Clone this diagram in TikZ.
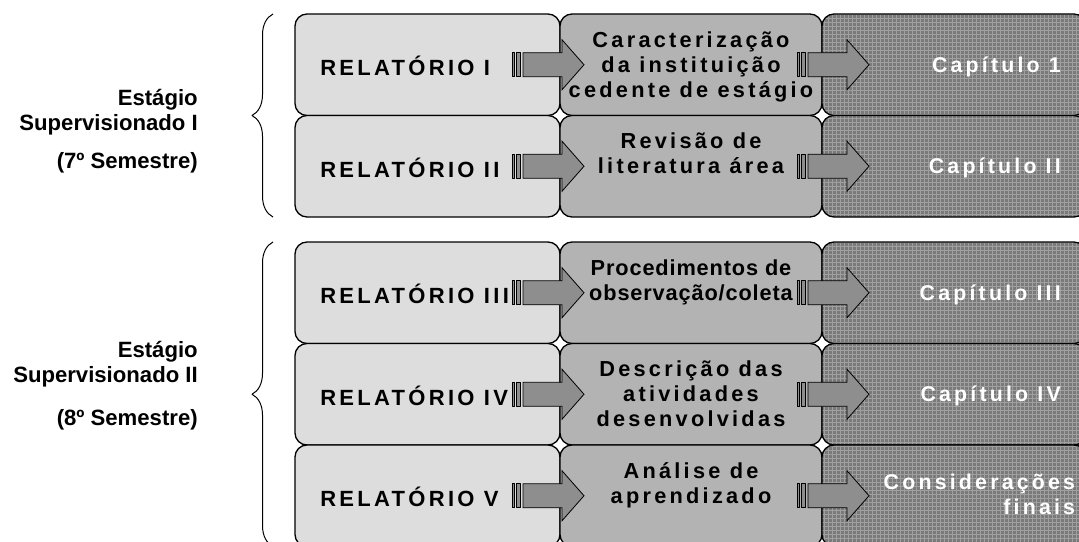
\documentclass[tikz,border=0pt]{standalone}
\usepackage{fontspec}
\setmainfont{Liberation Sans}
\newfontfamily\widefont[LetterSpace=15]{Liberation Sans}
\newfontfamily\tightfont[LetterSpace=4]{Liberation Sans}
\usetikzlibrary{positioning, patterns, decorations.pathreplacing}

\definecolor{relfill}{HTML}{DDDDDD}
\definecolor{temafill}{HTML}{B3B3B3}
\definecolor{capfill}{HTML}{7A7A7A}
\definecolor{capmesh}{HTML}{A0A0A0}
\definecolor{arrowfill}{HTML}{8E8E8E}

\begin{document}
\begin{tikzpicture}[x=.75pt, y=-.75pt, line join=round,
  box/.style={draw, line width=1pt, rounded corners=9pt, outer sep=0pt, inner sep=0pt, minimum height=76.125pt},
  relbox/.style={box, fill=relfill, minimum width=198.75pt},
  temabox/.style={box, fill=temafill, minimum width=196.5pt},
  capbox/.style={box, preaction={fill=capfill}, pattern=grid, pattern color=capmesh, minimum width=198pt},
  reltext/.style={inner sep=0pt, font=\widefont\bfseries\fontsize{16.5}{18.75}\selectfont},
  tematext/.style={inner sep=0pt, align=center, font=\widefont\bfseries\fontsize{16.3}{18.75}\selectfont},
  captext/.style={inner sep=0pt, align=right, text=white, font=\widefont\bfseries\fontsize{16}{18.75}\selectfont},
  grouptext/.style={inner sep=0pt, align=right, font=\bfseries\fontsize{16.6}{18.75}\selectfont},
  semibrace/.style={decorate, decoration={brace, amplitude=15.75pt}, line width=.75pt},
  striparrow/.pic={
    \draw[fill=arrowfill, line width=.6pt] (0,-12) rectangle (2.5,12);
    \draw[fill=arrowfill, line width=.6pt] (4.5,-12) rectangle (8.5,12);
    \draw[fill=arrowfill, line width=.6pt, line join=miter] (11,-12) -- (50,-12) -- (50,-25) -- (72,0) -- (50,25) -- (50,12) -- (11,12) -- cycle;
  }]
\useasboundingbox (0,0) rectangle (1079,542);

% Boxes
\node[relbox] (r1) at (427.5,64.75) {};
\node[temabox, right=0pt of r1] (t1) {};
\node[capbox, right=0pt of t1] (c1) {};
\node[relbox, below=0pt of r1] (r2) {};
\node[temabox, right=0pt of r2] (t2) {};
\node[capbox, right=0pt of t2] (c2) {};

\node[relbox] (r3) at (427.5,292.75) {};
\node[temabox, right=0pt of r3] (t3) {};
\node[capbox, right=0pt of t3] (c3) {};
\node[relbox, below=0pt of r3] (r4) {};
\node[temabox, right=0pt of r4] (t4) {};
\node[capbox, right=0pt of t4] (c4) {};
\node[relbox, below=0pt of r4] (r5) {};
\node[temabox, right=0pt of r5] (t5) {};
\node[capbox, right=0pt of t5] (c5) {};

% Arrows
\pic at ([xshift=-36pt]r1.east) {striparrow};
\pic at ([xshift=-18.75pt]t1.east) {striparrow};
\pic at ([xshift=-36pt]r2.east) {striparrow};
\pic at ([xshift=-18.75pt]t2.east) {striparrow};
\pic at ([xshift=-36pt]r3.east) {striparrow};
\pic at ([xshift=-18.75pt]t3.east) {striparrow};
\pic at ([xshift=-36pt]r4.east) {striparrow};
\pic at ([xshift=-18.75pt]t4.east) {striparrow};
\pic at ([xshift=-36pt]r5.east) {striparrow};
\pic at ([xshift=-18.75pt]t5.east) {striparrow};

% Braces
\draw[semibrace] ([xshift=-16.5pt]r2.south west) -- ([xshift=-16.5pt]r1.north west);
\draw[semibrace] ([xshift=-16.5pt]r5.south west) -- ([xshift=-16.5pt]r3.north west);

% Text
\node[grouptext, anchor=north east] (g1) at (198,87.5) {\strut Estágio\\Supervisionado I\\[9.75pt](7º Semestre)};
\node[grouptext, anchor=north east] (g2) at (198,339.5) {\strut Estágio\\Supervisionado II\\[14pt](8º Semestre)};

\node[reltext, anchor=base west] (l1) at ([xshift=18.75pt, yshift=-8.4pt]r1.west) {RELATÓRIO I};
\node[reltext, anchor=base west] (l2) at ([xshift=18.75pt, yshift=-8.4pt]r2.west) {RELATÓRIO II};
\node[reltext, anchor=base west] (l3) at ([xshift=18.75pt, yshift=-8.4pt]r3.west) {RELATÓRIO III};
\node[reltext, anchor=base west] (l4) at ([xshift=18.75pt, yshift=-8.4pt]r4.west) {RELATÓRIO IV};
\node[reltext, anchor=base west] (l5) at ([xshift=18.75pt, yshift=-8.4pt]r5.west) {RELATÓRIO V};

\node[tematext, anchor=north] (m1) at ([yshift=-11.6pt]t1.north) {\strut Caracterização\\da instituição\\cedente de estágio};
\node[tematext, anchor=north] (m2) at ([yshift=-11.6pt]t2.north) {\strut Revisão de\\literatura área};
\node[tematext, anchor=north, font=\tightfont\bfseries\fontsize{16.3}{18.75}\selectfont] (m3) at ([yshift=-11.6pt]t3.north) {\strut Procedimentos de\\observação/coleta};
\node[tematext, anchor=north] (m4) at ([yshift=-11.6pt]t4.north) {\strut Descrição das\\atividades\\desenvolvidas};
\node[tematext, anchor=north] (m5) at ([yshift=-11.6pt]t5.north) {\strut Análise de\\aprendizado};

\node[captext, anchor=base east] (k1) at ([xshift=-18.75pt, yshift=-5.5pt]c1.east) {Capítulo 1};
\node[captext, anchor=base east] (k2) at ([xshift=-18.75pt, yshift=-5.5pt]c2.east) {Capítulo II};
\node[captext, anchor=base east] (k3) at ([xshift=-18.75pt, yshift=-5.5pt]c3.east) {Capítulo III};
\node[captext, anchor=base east] (k4) at ([xshift=-18.75pt, yshift=-5.5pt]c4.east) {Capítulo IV};
\node[captext, anchor=north east] (k5) at ([xshift=-8pt, yshift=-19.9pt]c5.north east) {\strut Considerações\\finais};

\end{tikzpicture}
\end{document}
